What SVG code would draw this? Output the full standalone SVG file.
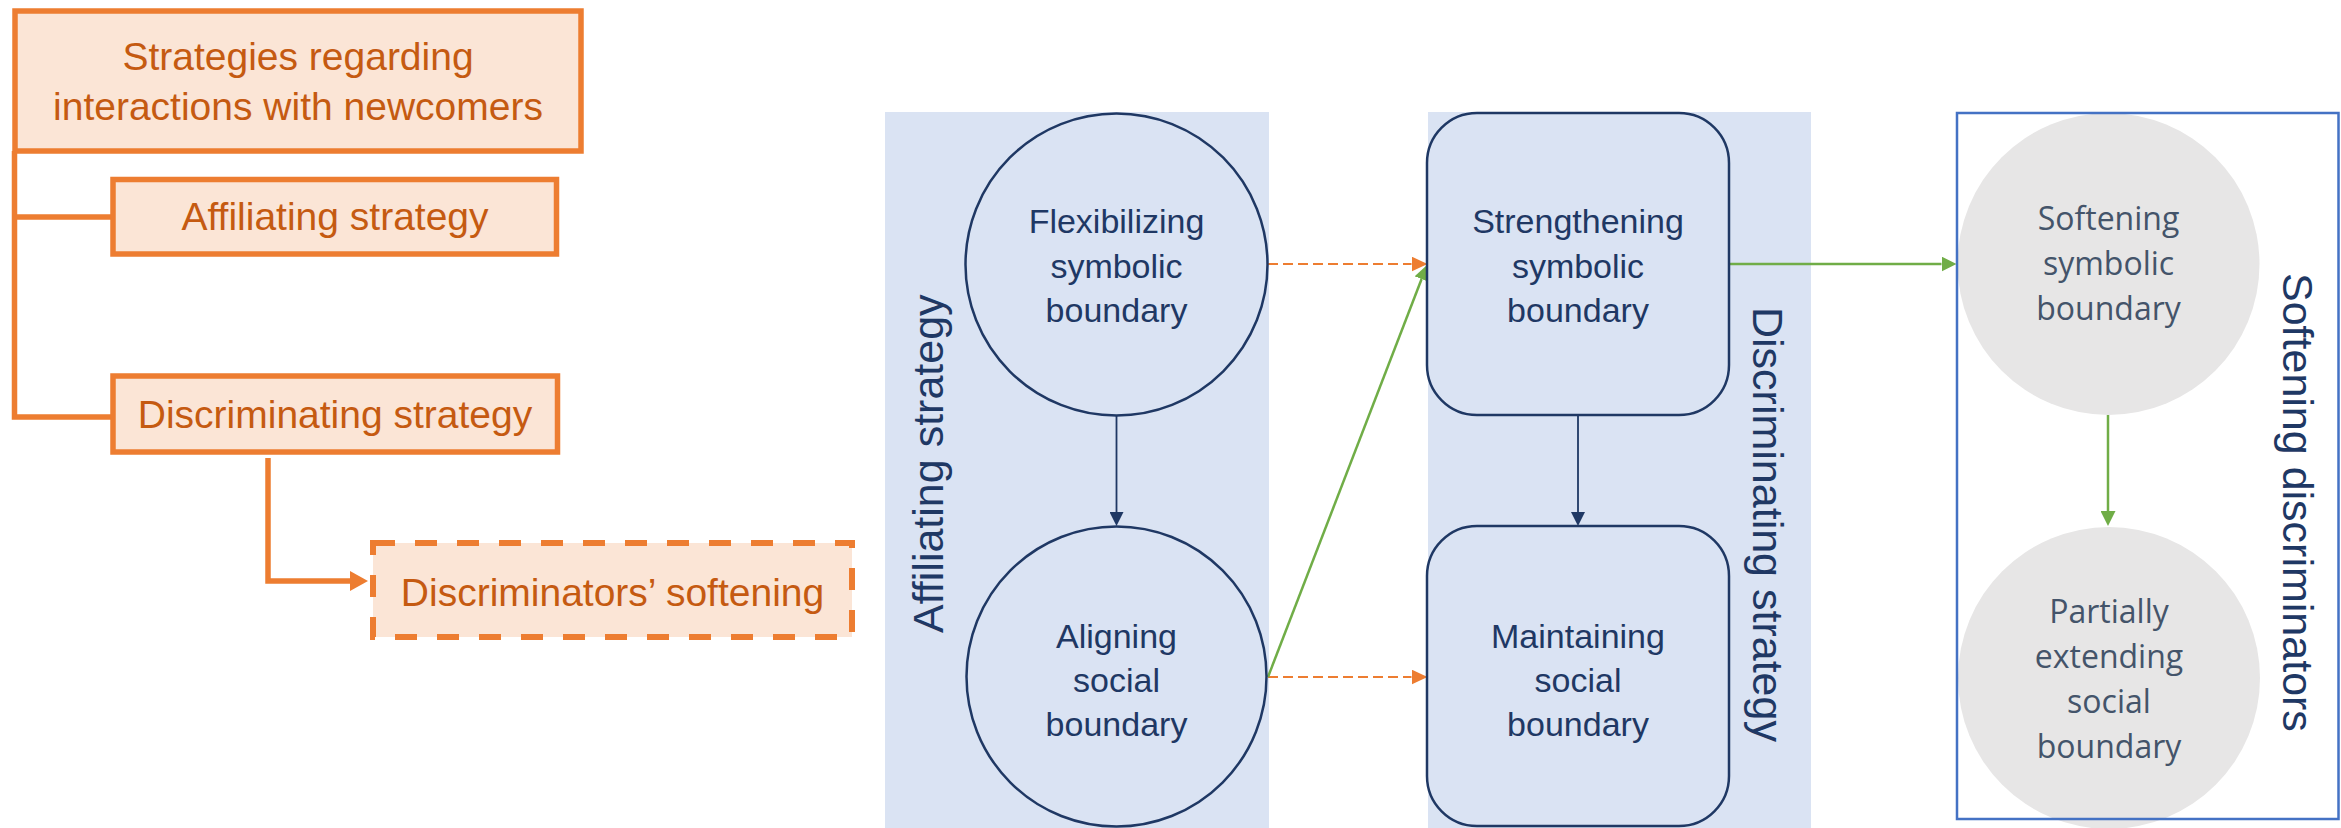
<svg xmlns="http://www.w3.org/2000/svg" width="2341" height="828" viewBox="0 0 2341 828">
<defs>
<style>
.obox{fill:#FBE5D6;stroke:#ED7D31;stroke-width:5.5}
.odash{fill:#FBE5D6;stroke:#ED7D31;stroke-width:6;stroke-dasharray:22 20}
.otxt{font-family:"Liberation Sans",Arial,sans-serif;font-size:39px;fill:#C55A11;text-anchor:middle}
.band{fill:#DAE3F3}
.nnode{fill:#DAE3F3;stroke:#1F3864;stroke-width:2.5}
.ntxt{font-family:"Liberation Sans",Arial,sans-serif;font-size:34px;fill:#1F3864;text-anchor:middle}
.gnode{fill:#E7E6E6}
.gtxt{font-family:"Open Sans",sans-serif;font-size:32px;fill:#44546A;text-anchor:middle}
.vlab{font-family:"Liberation Sans",Arial,sans-serif;font-size:43px;fill:#1F3864}
.oline{fill:none;stroke:#ED7D31;stroke-width:5.5}
.navy{fill:none;stroke:#1F3864;stroke-width:1.8}
.odsh{fill:none;stroke:#ED7D31;stroke-width:2;stroke-dasharray:10 5}
.grn{fill:none;stroke:#70AD47;stroke-width:2.5}
</style>
<marker id="mNavy" markerUnits="userSpaceOnUse" viewBox="0 0 14 14" markerWidth="14" markerHeight="14" refX="0" refY="7" orient="auto"><path d="M0,0 L14,7 L0,14 Z" fill="#1F3864"/></marker>
<marker id="mOr" markerUnits="userSpaceOnUse" viewBox="0 0 16 15" markerWidth="16" markerHeight="15" refX="0" refY="7.5" orient="auto"><path d="M0,0 L16,7.5 L0,15 Z" fill="#ED7D31"/></marker>
<marker id="mGr" markerUnits="userSpaceOnUse" viewBox="0 0 15 15" markerWidth="15" markerHeight="15" refX="0" refY="7.5" orient="auto"><path d="M0,0 L15,7.5 L0,15 Z" fill="#70AD47"/></marker>
<marker id="mOrBig" markerUnits="userSpaceOnUse" viewBox="0 0 18 20" markerWidth="18" markerHeight="20" refX="0" refY="10" orient="auto"><path d="M0,0 L18,10 L0,20 Z" fill="#ED7D31"/></marker>
</defs>

<rect width="2341" height="828" fill="#FFFFFF"/>

<g id="bands">
<rect class="band" x="885" y="112" width="384" height="716"/>
<rect class="band" x="1428" y="112" width="383" height="716"/>
</g>

<g id="connectors">
<polyline class="oline" points="14.5,151 14.5,417 113,417"/>
<line class="oline" x1="14.5" y1="217" x2="113" y2="217"/>
<polyline class="oline" points="268,458 268,581 350,581" marker-end="url(#mOrBig)"/>
<line class="navy" x1="1116.5" y1="415.7" x2="1116.5" y2="512" marker-end="url(#mNavy)"/>
<line class="navy" x1="1578" y1="415" x2="1578" y2="512" marker-end="url(#mNavy)"/>
<line class="odsh" x1="1268" y1="264" x2="1411.5" y2="264" marker-end="url(#mOr)"/>
<line class="odsh" x1="1268" y1="677" x2="1411.5" y2="677" marker-end="url(#mOr)"/>
<line class="grn" x1="1268" y1="677" x2="1421.6" y2="279" marker-end="url(#mGr)"/>
<line class="grn" x1="1730" y1="264" x2="1941.5" y2="264" marker-end="url(#mGr)"/>
<line class="grn" x1="2108" y1="415" x2="2108" y2="511" marker-end="url(#mGr)"/>
</g>

<g id="n-strategies">
<rect class="obox" x="15" y="11" width="566" height="140"/>
<text class="otxt" x="298" y="70">Strategies regarding</text>
<text class="otxt" x="298" y="120">interactions with newcomers</text>
</g>
<g id="n-affiliating">
<rect class="obox" x="113" y="179.5" width="443.5" height="74.5"/>
<text class="otxt" x="335" y="230">Affiliating strategy</text>
</g>
<g id="n-discriminating">
<rect class="obox" x="113" y="376" width="444.5" height="76"/>
<text class="otxt" x="335" y="428">Discriminating strategy</text>
</g>
<g id="n-discriminators-softening">
<rect class="odash" x="373" y="543" width="479" height="94"/>
<text class="otxt" x="612.5" y="606">Discriminators’ softening</text>
</g>

<g id="n-flexibilizing">
<circle class="nnode" cx="1116.5" cy="264.5" r="151"/>
<text class="ntxt" x="1116.5" y="233">Flexibilizing</text>
<text class="ntxt" x="1116.5" y="278">symbolic</text>
<text class="ntxt" x="1116.5" y="322">boundary</text>
</g>
<g id="n-aligning">
<circle class="nnode" cx="1116.5" cy="676.5" r="150"/>
<text class="ntxt" x="1116.5" y="648">Aligning</text>
<text class="ntxt" x="1116.5" y="692">social</text>
<text class="ntxt" x="1116.5" y="736">boundary</text>
</g>
<g id="n-strengthening">
<rect class="nnode" x="1427" y="113" width="302" height="302" rx="50" ry="50"/>
<text class="ntxt" x="1578" y="233">Strengthening</text>
<text class="ntxt" x="1578" y="278">symbolic</text>
<text class="ntxt" x="1578" y="322">boundary</text>
</g>
<g id="n-maintaining">
<rect class="nnode" x="1427" y="526" width="302" height="300" rx="50" ry="50"/>
<text class="ntxt" x="1578" y="648">Maintaining</text>
<text class="ntxt" x="1578" y="692">social</text>
<text class="ntxt" x="1578" y="736">boundary</text>
</g>

<g id="n-softening">
<circle class="gnode" cx="2108.5" cy="264" r="151"/>
<text class="gtxt" x="2108.5" y="230">Softening</text>
<text class="gtxt" x="2108.5" y="275">symbolic</text>
<text class="gtxt" x="2108.5" y="320">boundary</text>
</g>
<g id="n-partially">
<circle class="gnode" cx="2109" cy="678" r="151"/>
<text class="gtxt" x="2109" y="623">Partially</text>
<text class="gtxt" x="2109" y="668">extending</text>
<text class="gtxt" x="2109" y="713">social</text>
<text class="gtxt" x="2109" y="758">boundary</text>
</g>

<g id="softening-frame">
<rect x="1957" y="113" width="381.5" height="706" fill="none" stroke="#4472C4" stroke-width="2.5"/>
</g>

<g id="labels">
<text class="vlab" transform="translate(943,633) rotate(-90)" font-size="44">Affiliating strategy</text>
<text class="vlab" transform="translate(1753,307) rotate(90)">Discriminating strategy</text>
<text class="vlab" transform="translate(2283,273) rotate(90)">Softening discriminators</text>
</g>
</svg>
